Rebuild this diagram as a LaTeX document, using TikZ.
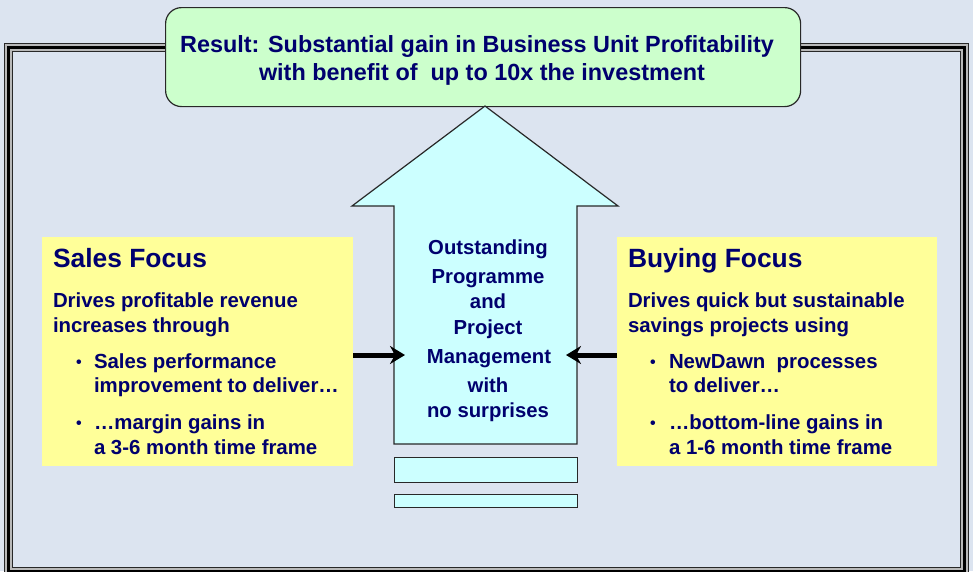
\documentclass[tikz,border=0pt]{standalone}
\usepackage{fontspec}
\setmainfont{Liberation Sans}
\usetikzlibrary{arrows.meta}
\definecolor{bgc}{RGB}{220,228,240}
\definecolor{greenf}{RGB}{204,255,204}
\definecolor{cyanf}{RGB}{204,255,255}
\definecolor{yellowf}{RGB}{255,255,153}
\definecolor{navy}{RGB}{0,0,110}
\definecolor{edge}{RGB}{40,40,40}
\tikzset{
  txt/.style={font=\bfseries, text=navy, inner sep=0pt, outer sep=0pt},
  ttl/.style={txt, font=\bfseries\fontsize{23.4}{28}\selectfont, anchor=base},
  head/.style={txt, font=\bfseries\fontsize{26.4}{30}\selectfont, anchor=base west},
  body/.style={txt, font=\bfseries\fontsize{20.4}{24}\selectfont, anchor=base west},
  ctr/.style={txt, font=\bfseries\fontsize{20.3}{24}\selectfont, anchor=base},
  bul/.style={txt, font=\bfseries\fontsize{16}{18}\selectfont, anchor=base},
  ybox/.style={fill=yellowf, draw=none},
  cyanbox/.style={fill=cyanf, draw=edge, line width=1.2pt},
  push/.style={line width=5pt, -{Stealth[length=15pt,width=18pt,inset=5pt]}},
}
\begin{document}
\begin{tikzpicture}[x=1pt,y=-1pt]
\useasboundingbox (0,0) rectangle (973,571);
\fill[bgc] (0,0) rectangle (973,571);
% frame
\draw[line width=8pt, gray!55] (8.5,47.5) rectangle (964.5,571.5);
\draw[line width=1.2pt, edge] (4.8,43.8) rectangle (968.2,575.2);
\draw[line width=3pt, black] (8.5,47.5) rectangle (964.5,571.5);
\draw[line width=1.2pt, edge] (12.2,51.2) rectangle (960.8,567.8);
% result box
\node[draw=edge, fill=greenf, line width=1.2pt, rounded corners=16pt, minimum width=635pt, minimum height=99pt, inner sep=0pt, anchor=north west] (result) at (165,7) {};
\node[ttl] (t1) at (477,52) {Result: Substantial gain in Business Unit Profitability};
\node[ttl] (t2) at (482,80) {with benefit of\ \ up to 10x the investment};
% big arrow
\draw[cyanbox] (485,106) coordinate (tip) -- (618,206) -- (577,206) -- (577,444) -- (394,444) -- (394,206) -- (352,206) -- cycle;
\coordinate (la) at (405,355);
\coordinate (ra) at (566,355);
\node[cyanbox, minimum width=183pt, minimum height=25pt, anchor=north west] (bar1) at (394,457) {};
\node[cyanbox, minimum width=183pt, minimum height=13pt, anchor=north west] (bar2) at (394,494) {};
\node[ctr] (c1) at (488,254) {Outstanding};
\node[ctr] (c2) at (488,283) {Programme};
\node[ctr] (c3) at (488,308) {and};
\node[ctr] (c4) at (488,334) {Project};
\node[ctr] (c5) at (489,363) {Management};
\node[ctr] (c6) at (488,392) {with};
\node[ctr] (c7) at (488,417) {no surprises};
% yellow boxes
\node[ybox, minimum width=311pt, minimum height=229pt, anchor=north west, inner sep=0pt] (sales) at (42,237) {};
\node[ybox, minimum width=320pt, minimum height=229pt, anchor=north west, inner sep=0pt] (buying) at (617,237) {};
\node[head] (sh) at (53,267) {Sales Focus};
\node[body] (s1) at (53,307) {Drives profitable revenue};
\node[body] (s2) at (53,332) {increases through};
\node[bul] (sb1) at (79,367) {•};
\node[body] (s3) at (94,368) {Sales performance};
\node[body] (s4) at (94,392) {improvement to deliver…};
\node[bul] (sb2) at (79,428) {•};
\node[body] (s5) at (94,429) {…margin gains in};
\node[body] (s6) at (94,454) {a 3-6 month time frame};
\node[head] (bh) at (628,267) {Buying Focus};
\node[body] (b1) at (628,307) {Drives quick but sustainable};
\node[body] (b2) at (628,332) {savings projects using};
\node[bul] (bb1) at (653,367) {•};
\node[body] (b3) at (669,368) {NewDawn\ \ processes};
\node[body] (b4) at (669,392) {to deliver…};
\node[bul] (bb2) at (653,428) {•};
\node[body] (b5) at (669,429) {…bottom-line gains in};
\node[body] (b6) at (669,454) {a 1-6 month time frame};
% push arrows
\draw[push] (sales.east |- la) -- (la);
\draw[push] (buying.west |- ra) -- (ra);
\end{tikzpicture}
\end{document}
